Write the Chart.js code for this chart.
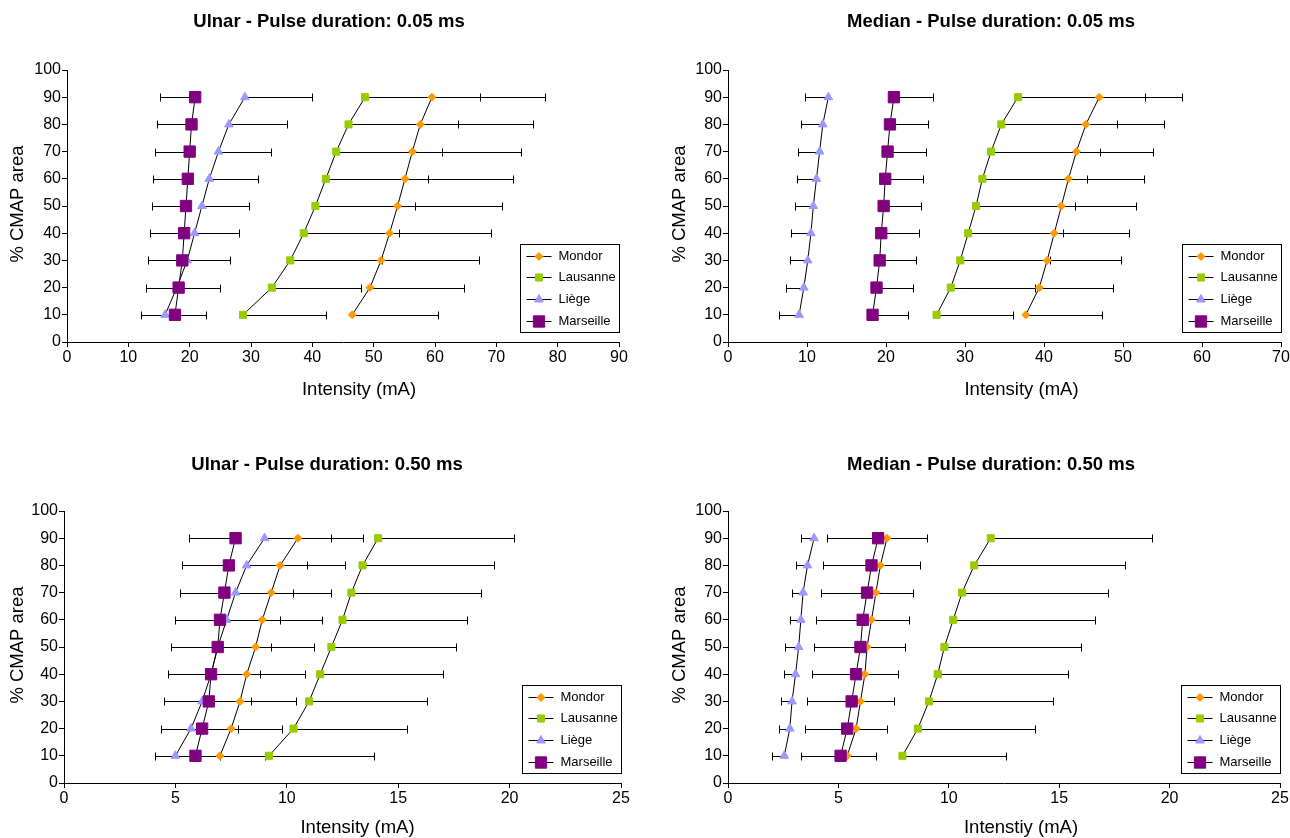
<!DOCTYPE html>
<html>
<head>
<meta charset="utf-8">
<script src="https://cdn.jsdelivr.net/npm/chart.js@4.4.1/dist/chart.umd.min.js"></script>
<style>
  html, body { margin: 0; padding: 0; background: #fff; }
  body { width: 1290px; height: 838px; overflow: hidden; position: relative; }
  canvas { position: absolute; }
</style>
</head>
<body>
<canvas id="c1"></canvas>
<canvas id="c2"></canvas>
<canvas id="c3"></canvas>
<canvas id="c4"></canvas>
<script>
// % CMAP area levels (y) shared by every panel
const levels = [10, 20, 30, 40, 50, 60, 70, 80, 90];
const yTicks = [0, 10, 20, 30, 40, 50, 60, 70, 80, 90, 100];
const seriesNames = ['Mondor', 'Lausanne', 'Liège', 'Marseille'];

// Ulnar - 0.05 ms : intensity (mA) and error-bar end
const u05Mondor = [46.5, 49.4, 51.2, 52.6, 53.9, 55.1, 56.3, 57.6, 59.5];
const u05MondorEnd = [60.5, 64.7, 67.2, 69.2, 70.9, 72.7, 74.1, 75.9, 78.0];
const u05Lausanne = [28.7, 33.4, 36.4, 38.6, 40.5, 42.2, 43.9, 45.9, 48.6];
const u05LausanneEnd = [42.2, 47.9, 51.3, 54.2, 56.7, 58.8, 61.1, 63.7, 67.4];
const u05Liege = [16.0, 17.9, 19.6, 20.8, 22.0, 23.2, 24.7, 26.4, 29.0];
const u05LiegeEnd = [22.6, 24.9, 26.5, 28.1, 29.6, 31.2, 33.2, 35.8, 40.0];
const u05Marseille = [17.6, 18.2, 18.8, 19.1, 19.4, 19.7, 20.0, 20.3, 20.9];
const u05MarseilleEnd = [12.0, 12.8, 13.2, 13.5, 13.9, 14.0, 14.4, 14.7, 15.2];
const u05Ticks = [0, 10, 20, 30, 40, 50, 60, 70, 80, 90];

// Median - 0.05 ms
const m05Mondor = [37.7, 39.4, 40.4, 41.3, 42.2, 43.1, 44.1, 45.3, 47.0];
const m05MondorEnd = [47.3, 48.7, 49.7, 50.7, 51.7, 52.6, 53.8, 55.2, 57.5];
const m05Lausanne = [26.4, 28.2, 29.4, 30.4, 31.4, 32.2, 33.3, 34.6, 36.7];
const m05LausanneEnd = [36.1, 38.8, 40.8, 42.4, 43.9, 45.4, 47.1, 49.3, 52.8];
const m05Liege = [9.0, 9.6, 10.1, 10.5, 10.8, 11.2, 11.6, 12.0, 12.7];
const m05LiegeEnd = [6.4, 7.3, 7.8, 8.0, 8.5, 8.7, 8.9, 9.2, 9.7];
const m05Marseille = [18.3, 18.8, 19.2, 19.4, 19.7, 19.9, 20.2, 20.5, 21.0];
const m05MarseilleEnd = [22.8, 23.4, 23.8, 24.2, 24.4, 24.7, 25.0, 25.3, 25.9];
const m05Ticks = [0, 10, 20, 30, 40, 50, 60, 70];

// Ulnar - 0.50 ms
const u50Mondor = [7.0, 7.5, 7.9, 8.2, 8.6, 8.9, 9.3, 9.7, 10.5];
const u50MondorEnd = [9.0, 9.8, 10.4, 10.8, 11.2, 11.6, 12.0, 12.6, 13.4];
const u50Lausanne = [9.2, 10.3, 11.0, 11.5, 12.0, 12.5, 12.9, 13.4, 14.1];
const u50LausanneEnd = [13.9, 15.4, 16.3, 17.0, 17.6, 18.1, 18.7, 19.3, 20.2];
const u50Liege = [5.0, 5.7, 6.2, 6.6, 6.9, 7.3, 7.7, 8.2, 9.0];
const u50LiegeEnd = [7.0, 7.8, 8.4, 8.8, 9.3, 9.7, 10.3, 10.9, 12.0];
const u50Marseille = [5.9, 6.2, 6.5, 6.6, 6.9, 7.0, 7.2, 7.4, 7.7];
const u50MarseilleEnd = [4.1, 4.35, 4.5, 4.65, 4.8, 5.0, 5.2, 5.3, 5.6];
const u50Ticks = [0, 5, 10, 15, 20, 25];

// Median - 0.50 ms
const m50Mondor = [5.4, 5.8, 6.0, 6.2, 6.3, 6.5, 6.7, 6.9, 7.2];
const m50MondorEnd = [6.7, 7.2, 7.5, 7.7, 8.0, 8.2, 8.4, 8.7, 9.0];
const m50Lausanne = [7.9, 8.6, 9.1, 9.5, 9.8, 10.2, 10.6, 11.15, 11.9];
const m50LausanneEnd = [12.6, 13.9, 14.7, 15.4, 16.0, 16.6, 17.2, 18.0, 19.2];
const m50Liege = [2.55, 2.8, 2.9, 3.06, 3.2, 3.3, 3.4, 3.6, 3.9];
const m50LiegeEnd = [2.0, 2.3, 2.4, 2.55, 2.6, 2.8, 2.9, 3.1, 3.3];
const m50Marseille = [5.1, 5.4, 5.6, 5.8, 6.0, 6.1, 6.3, 6.5, 6.8];
const m50MarseilleEnd = [3.3, 3.5, 3.6, 3.8, 3.9, 4.0, 4.2, 4.3, 4.5];
const m50Ticks = [0, 5, 10, 15, 20, 25];

// marker look per series (same order as seriesNames)
const seriesStyle = [
  { color: '#ff9900', pointStyle: 'rectRot', radius: 4 },
  { color: '#99cc00', pointStyle: 'rect', radius: 5 },
  { color: '#9999ff', pointStyle: 'triangle', radius: 5 },
  { color: '#800080', pointStyle: 'rect', radius: 8 }
];

const FONT = "Arial, 'Liberation Sans', sans-serif";
Chart.defaults.font.family = FONT;
Chart.defaults.color = '#000';

// one-sided horizontal error bars, drawn under the markers
const errorBars = {
  id: 'errorBars',
  beforeDatasetsDraw(chart) {
    const { ctx, scales: { x, y } } = chart;
    ctx.save();
    ctx.strokeStyle = '#000';
    ctx.lineWidth = 1;
    chart.data.datasets.forEach(ds => {
      ds.data.forEach((p, i) => {
        const px = x.getPixelForValue(p.x);
        const ex = Math.round(x.getPixelForValue(ds.errEnd[i])) + 0.5;
        const py = Math.round(y.getPixelForValue(p.y)) + 0.5;
        ctx.beginPath();
        ctx.moveTo(px, py);
        ctx.lineTo(ex, py);
        ctx.moveTo(ex, py - 4);
        ctx.lineTo(ex, py + 4);
        ctx.stroke();
      });
    });
    ctx.restore();
  }
};

// boxed legend in the lower right corner of the plot
const boxLegend = {
  id: 'boxLegend',
  afterDatasetsDraw(chart) {
    const { ctx, chartArea } = chart;
    const w = 99, h = 88;
    const left = Math.round(chartArea.right - w) + 0.5;
    const top = Math.round(chartArea.bottom - 10 - h) + 0.5;
    ctx.save();
    ctx.fillStyle = '#fff';
    ctx.fillRect(left, top, w, h);
    ctx.strokeStyle = '#000';
    ctx.lineWidth = 1;
    ctx.strokeRect(left, top, w, h);
    ctx.font = '13px ' + FONT;
    ctx.textBaseline = 'middle';
    seriesNames.forEach((name, i) => {
      const st = seriesStyle[i];
      const cy = Math.round(top + 11 + i * 21.8) + 0.5;
      ctx.strokeStyle = '#000';
      ctx.beginPath();
      ctx.moveTo(left + 6, cy);
      ctx.lineTo(left + 31, cy);
      ctx.stroke();
      ctx.fillStyle = st.color;
      ctx.strokeStyle = st.color;
      Chart.helpers.drawPoint(ctx, { pointStyle: st.pointStyle, radius: st.radius, rotation: 0, borderWidth: 1 }, left + 18.5, cy);
      ctx.fillStyle = '#000';
      ctx.fillText(name, left + 38, cy);
    });
    ctx.restore();
  }
};

// chart title and axis titles, placed like the original Excel layout
function panelText(p) {
  return {
    id: 'panelText',
    afterDraw(chart) {
      const { ctx, chartArea: a } = chart;
      const cx = (a.left + a.right) / 2;
      ctx.save();
      ctx.fillStyle = '#000';
      ctx.textAlign = 'center';
      ctx.textBaseline = 'middle';
      ctx.font = 'bold 18.5px ' + FONT;
      ctx.fillText(p.title, cx + p.titleDx, p.titleY);
      ctx.font = '18.5px ' + FONT;
      ctx.fillText(p.xTitle, cx + p.xTitleDx, p.xTitleY);
      ctx.translate(p.yTitleX, (a.top + a.bottom) / 2 - 2);
      ctx.rotate(-Math.PI / 2);
      ctx.fillText('% CMAP area', 0, 0);
      ctx.restore();
    }
  };
}

const panels = [
  { id: 'c1', title: 'Ulnar - Pulse duration: 0.05 ms', xTitle: 'Intensity (mA)', xTicks: u05Ticks,
    values: [u05Mondor, u05Lausanne, u05Liege, u05Marseille],
    ends: [u05MondorEnd, u05LausanneEnd, u05LiegeEnd, u05MarseilleEnd],
    left: 0, top: 0, w: 645, h: 419, yW: 67, padR: 26, xH: 77,
    titleDx: -14, titleY: 22, xTitleDx: 16, xTitleY: 390, yTitleX: 18 },
  { id: 'c2', title: 'Median - Pulse duration: 0.05 ms', xTitle: 'Intensity (mA)', xTicks: m05Ticks,
    values: [m05Mondor, m05Lausanne, m05Liege, m05Marseille],
    ends: [m05MondorEnd, m05LausanneEnd, m05LiegeEnd, m05MarseilleEnd],
    left: 661, top: 0, w: 640, h: 419, yW: 67, padR: 20, xH: 77,
    titleDx: -13.5, titleY: 22, xTitleDx: 17, xTitleY: 390, yTitleX: 19 },
  { id: 'c3', title: 'Ulnar - Pulse duration: 0.50 ms', xTitle: 'Intensity (mA)', xTicks: u50Ticks,
    values: [u50Mondor, u50Lausanne, u50Liege, u50Marseille],
    ends: [u50MondorEnd, u50LausanneEnd, u50LiegeEnd, u50MarseilleEnd],
    left: 0, top: 441, w: 645, h: 397, yW: 64, padR: 24, xH: 55,
    titleDx: -15.5, titleY: 24, xTitleDx: 15, xTitleY: 387, yTitleX: 18 },
  { id: 'c4', title: 'Median - Pulse duration: 0.50 ms', xTitle: 'Intenstiy (mA)', xTicks: m50Ticks,
    values: [m50Mondor, m50Lausanne, m50Liege, m50Marseille],
    ends: [m50MondorEnd, m50LausanneEnd, m50LiegeEnd, m50MarseilleEnd],
    left: 661, top: 441, w: 640, h: 397, yW: 67, padR: 21, xH: 55,
    titleDx: -13, titleY: 24, xTitleDx: 17, xTitleY: 387, yTitleX: 19 }
];

panels.forEach(p => {
  const canvas = document.getElementById(p.id);
  canvas.width = p.w;
  canvas.height = p.h;
  canvas.style.left = p.left + 'px';
  canvas.style.top = p.top + 'px';

  const datasets = seriesNames.map((name, s) => ({
    label: name,
    data: levels.map((lv, i) => ({ x: p.values[s][i], y: lv })),
    errEnd: p.ends[s],
    showLine: true,
    borderColor: '#000',
    borderWidth: 1,
    tension: 0,
    pointStyle: seriesStyle[s].pointStyle,
    pointRadius: seriesStyle[s].radius,
    pointHoverRadius: seriesStyle[s].radius,
    pointBackgroundColor: seriesStyle[s].color,
    pointBorderColor: seriesStyle[s].color,
    pointBorderWidth: 1,
    order: seriesNames.length - s
  }));

  const axisGrid = { display: true, drawOnChartArea: false, drawTicks: true, tickLength: 5, color: '#000' };
  const axisBorder = { display: true, color: '#000', width: 1 };

  new Chart(canvas, {
    type: 'scatter',
    data: { datasets },
    options: {
      responsive: false,
      animation: false,
      events: [],
      layout: { padding: { left: 0, right: p.padR, top: 70, bottom: 0 } },
      plugins: {
        legend: { display: false },
        tooltip: { enabled: false },
        title: { display: false }
      },
      scales: {
        x: {
          type: 'linear',
          min: p.xTicks[0],
          max: p.xTicks[p.xTicks.length - 1],
          afterBuildTicks: s => { s.ticks = p.xTicks.map(v => ({ value: v })); },
          afterFit: s => { s.height = p.xH; },
          grid: axisGrid,
          border: axisBorder,
          ticks: { font: { size: 16 }, padding: 1, maxRotation: 0, color: '#000' }
        },
        y: {
          type: 'linear',
          min: 0,
          max: 100,
          afterBuildTicks: s => { s.ticks = yTicks.map(v => ({ value: v })); },
          afterFit: s => { s.width = p.yW; },
          grid: axisGrid,
          border: axisBorder,
          ticks: { font: { size: 16 }, padding: 1, color: '#000' }
        }
      }
    },
    plugins: [errorBars, boxLegend, panelText(p)]
  });
});
</script>
</body>
</html>
